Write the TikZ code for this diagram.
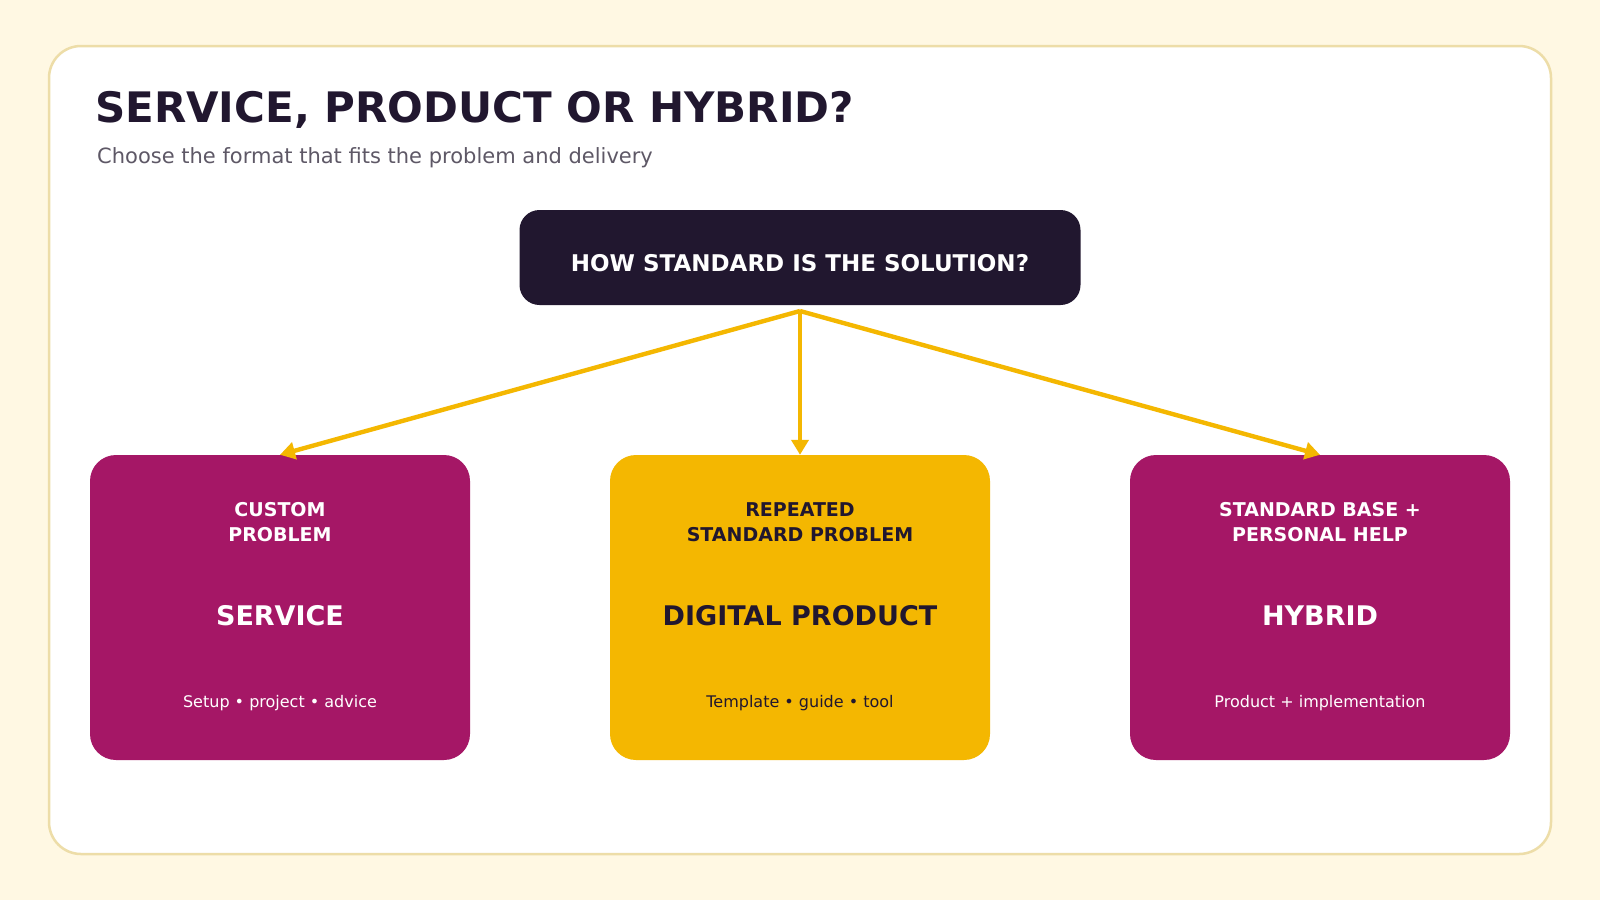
\documentclass[tikz,border=0pt]{standalone}
\usepackage{fontspec}
\setmainfont{DejaVu Sans}
\usetikzlibrary{arrows.meta}
\definecolor{bgcream}{HTML}{FFF8E3}
\definecolor{cardline}{HTML}{EDDDA8}
\definecolor{darkink}{HTML}{21172F}
\definecolor{magentabox}{HTML}{A51766}
\definecolor{yellowbox}{HTML}{F4B701}
\definecolor{subgrey}{HTML}{5E5866}
\tikzset{
  optbox/.style={rounded corners=26pt, minimum width=380pt, minimum height=305pt, inner sep=0pt, draw=none},
  headtxt/.style={font=\fontsize{19}{25.5}\selectfont\bfseries, align=center, inner sep=0pt},
  bigtxt/.style={font=\fontsize{27}{32}\selectfont\bfseries, inner sep=0pt},
  smalltxt/.style={font=\fontsize{16}{19}\selectfont, inner sep=0pt},
  flow/.style={draw=yellowbox, line width=4.4pt, -{Triangle[length=15pt,width=17pt]}}
}
\begin{document}
\begin{tikzpicture}[x=1pt,y=-1pt]
\fill[bgcream] (0,0) rectangle (1600,900);
\useasboundingbox (0,0) rectangle (1600,900);
\draw[cardline, line width=2.5pt, fill=white, rounded corners=32pt] (49,46) rectangle (1551,854);
\node[anchor=base west, inner sep=0pt, text=darkink, font=\fontsize{42}{50}\selectfont\bfseries] (title) at (95,122) {SERVICE, PRODUCT OR HYBRID?};
\node[anchor=base west, inner sep=0pt, text=subgrey, font=\fontsize{21}{25}\selectfont] (subtitle) at (97,163) {Choose the format that fits the problem and delivery};
\node[fill=darkink, rounded corners=20pt, minimum width=561pt, minimum height=95pt, inner sep=0pt] (q) at (800,257.5) {};
\node[text=white, font=\fontsize{23}{27}\selectfont\bfseries, inner sep=0pt] (qtxt) at (800,263) {HOW STANDARD IS THE SOLUTION?};
\coordinate (src) at (800,311);
\node[optbox, fill=magentabox] (svc) at (280,607.5) {};
\node[optbox, fill=yellowbox] (prd) at (800,607.5) {};
\node[optbox, fill=magentabox] (hyb) at (1320,607.5) {};
\node[headtxt, text=white] (svch) at (280,522) {CUSTOM\\PROBLEM};
\node[bigtxt, text=white] (svcb) at (280,616) {SERVICE};
\node[smalltxt, text=white] (svcs) at (280,703) {Setup • project • advice};
\node[headtxt, text=darkink] (prdh) at (800,522) {REPEATED\\STANDARD PROBLEM};
\node[bigtxt, text=darkink] (prdb) at (800,616) {DIGITAL PRODUCT};
\node[smalltxt, text=darkink] (prds) at (800,703) {Template • guide • tool};
\node[headtxt, text=white] (hybh) at (1320,522) {STANDARD BASE +\\PERSONAL HELP};
\node[bigtxt, text=white] (hybb) at (1320,616) {HYBRID};
\node[smalltxt, text=white] (hybs) at (1320,703) {Product + implementation};
\draw[flow] (src) -- (svc.north);
\draw[flow] (src) -- (prd.north);
\draw[flow] (src) -- (hyb.north);
\end{tikzpicture}
\end{document}
